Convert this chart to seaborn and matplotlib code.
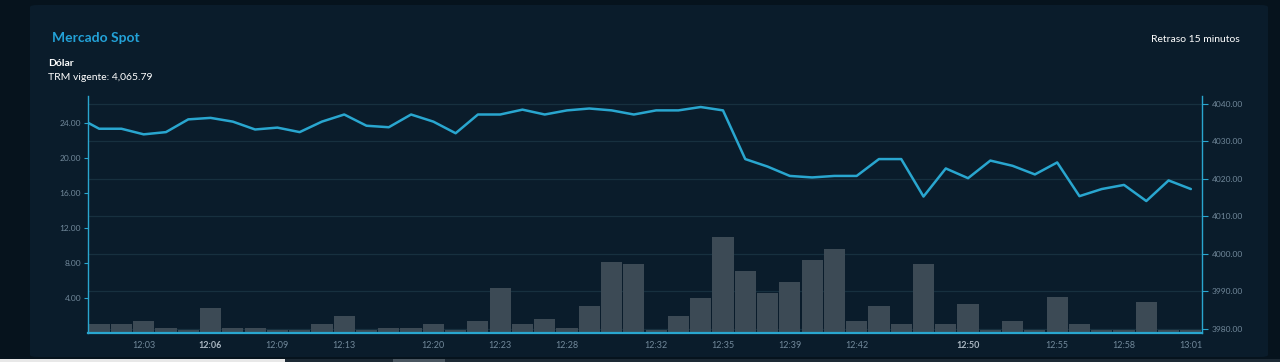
import matplotlib
matplotlib.use("Agg")
import matplotlib.pyplot as plt
from matplotlib.patches import FancyBboxPatch, Rectangle
import numpy as np
import pandas as pd
import seaborn as sns

# ---------------- data ----------------
volumes = [1.0, 1.0, 1.3, 0.55, 0.3, 2.8, 0.55, 0.55, 0.3, 0.3,
           1.0, 1.85, 0.3, 0.5, 0.5, 1.0, 0.3, 1.3, 5.1, 1.0,
           1.6, 0.55, 3.0, 8.1, 7.8, 0.3, 1.85, 4.0, 10.9, 7.1,
           4.5, 5.8, 8.3, 9.6, 1.3, 3.0, 1.0, 7.8, 1.0, 3.3,
           0.3, 1.3, 0.3, 4.05, 1.0, 0.3, 0.3, 3.5, 0.3, 0.3]

# first price belongs to the trade before the first visible bar (clipped at the edge)
prices = [4036.6,
          4033.4, 4033.4, 4031.9, 4032.5, 4035.9, 4036.3, 4035.3, 4033.2, 4033.7, 4032.5,
          4035.3, 4037.2, 4034.2, 4033.8, 4037.2, 4035.3, 4032.2, 4037.2, 4037.2, 4038.5,
          4037.2, 4038.3, 4038.8, 4038.3, 4037.2, 4038.3, 4038.3, 4039.2, 4038.3, 4025.3,
          4023.3, 4020.8, 4020.4, 4020.8, 4020.8, 4025.3, 4025.3, 4015.3, 4022.8, 4020.2,
          4024.9, 4023.5, 4021.2, 4024.4, 4015.4, 4017.3, 4018.4, 4014.1, 4019.6, 4017.3]

tick_labels = ["12:03", "12:06", "12:09", "12:13", "12:20", "12:23", "12:28", "12:32",
               "12:35", "12:39", "12:42", "12:50", "12:55", "12:58", "13:01"]
tick_bar_index = [2, 5, 8, 11, 15, 18, 21, 25, 28, 31, 34, 39, 43, 46, 49]
bold_labels = ["12:06", "12:50"]

left_ticks = [4, 8, 12, 16, 20, 24]
right_ticks = [3980, 3990, 4000, 4010, 4020, 4030, 4040]

title = "Mercado Spot"
subtitle1 = "Dólar"
subtitle2 = "TRM vigente: 4,065.79"
delay_note = "Retraso 15 minutos"

# ---------------- style ----------------
OUTER = "#06131d"
PANEL = "#0a1c2b"
CYAN = "#29a6cf"
BAR = "#3c4a55"
GRID = "#17303f"
TICK = "#71889a"

sns.set_theme(style="dark")
plt.rcParams["font.family"] = ["Lato", "DejaVu Sans"]

W, H = 1280, 362
fig = plt.figure(figsize=(W / 100, H / 100), dpi=100, facecolor=OUTER)

# panel
panel = FancyBboxPatch((30 / W, 5 / H), 1238 / W, 352 / H,
                       boxstyle="round,pad=0,rounding_size=0.006",
                       transform=fig.transFigure, facecolor=PANEL,
                       edgecolor="none", zorder=0)
fig.patches.append(panel)
# bottom screen strip
fig.patches.append(Rectangle((0, 0), 1, 3 / H, transform=fig.transFigure,
                             facecolor="#1d2a35", edgecolor="none", zorder=1))
fig.patches.append(Rectangle((0, 0), 285 / W, 3 / H, transform=fig.transFigure,
                             facecolor="#e8e8e8", edgecolor="none", zorder=2))
fig.patches.append(Rectangle((393 / W, 0), 52 / W, 3 / H, transform=fig.transFigure,
                             facecolor="#4a5660", edgecolor="none", zorder=2))

left, right, top, bottom = 88, 1202, 96, 332.5
ax = fig.add_axes([left / W, 1 - bottom / H, (right - left) / W, (bottom - top) / H])
ax2 = ax.twinx()

# price axis (behind): grid + line
for t in right_ticks:
    ax2.axhline(t, color=GRID, linewidth=0.9, zorder=0)
df_line = pd.DataFrame({"pos": np.arange(-1, len(prices) - 1), "price": prices})
sns.lineplot(data=df_line, x="pos", y="price", ax=ax2, color=CYAN,
             linewidth=1.8, zorder=4)
ax2.set_xlim(-0.5, len(volumes) - 0.5)
ax2.set_ylim(3979.0, 4042.14)
ax2.set_yticks(right_ticks)
ax2.set_yticklabels([f"{v:.2f}" for v in right_ticks])
ax2.set_ylabel("")
ax2.set_xlabel("")
ax2.grid(False)
ax2.tick_params(axis="y", colors=TICK, labelsize=6, length=4, width=0.8, pad=3)
ax2.tick_params(axis="y", color=CYAN)
for s in ["top", "left", "bottom"]:
    ax2.spines[s].set_visible(False)
ax2.spines["right"].set_color(CYAN)
ax2.spines["right"].set_linewidth(1.0)

# volume axis (front): bars
df_bars = pd.DataFrame({"pos": np.arange(len(volumes)), "vol": volumes})
sns.barplot(data=df_bars, x="pos", y="vol", ax=ax, color=BAR, width=0.95,
            saturation=1, linewidth=0, zorder=2)
ax.set_xlim(-0.5, len(volumes) - 0.5)
ax.set_ylim(0, 27.09)
ax.set_yticks(left_ticks)
ax.set_yticklabels([f"{v:.2f}" for v in left_ticks])
ax.set_xticks(tick_bar_index)
ax.set_xticklabels(tick_labels)
ax.set_xlabel("")
ax.set_ylabel("")
ax.grid(False)
ax.tick_params(axis="x", labelsize=6.5, length=3, width=0.8,
               direction="out", pad=3, color="#9aa8b3")
ax.tick_params(axis="y", colors=TICK, labelsize=6, length=3, width=0.8, pad=2)
ax.tick_params(axis="y", color=CYAN)
for lbl in ax.get_xticklabels():
    if lbl.get_text() in bold_labels:
        lbl.set_fontweight("bold")
        lbl.set_color("#a9b6c1")
    else:
        lbl.set_color(TICK)
for s in ["top", "right"]:
    ax.spines[s].set_visible(False)
ax.spines["left"].set_color(CYAN)
ax.spines["left"].set_linewidth(1.0)
ax.spines["bottom"].set_color(CYAN)
ax.spines["bottom"].set_linewidth(1.6)

ax2.set_zorder(1)
ax.set_zorder(2)
ax.patch.set_visible(False)
ax2.patch.set_visible(False)

# texts
fig.text(52 / W, 1 - 38 / H, title, color="#23a2d8", fontsize=10,
         fontweight="bold", va="center", ha="left")
fig.text(48 / W, 1 - 63 / H, subtitle1, color="white", fontsize=7.5,
         fontweight="bold", va="center", ha="left")
fig.text(48 / W, 1 - 78 / H, subtitle2, color="white", fontsize=7.5,
         va="center", ha="left")
fig.text(1240 / W, 1 - 39 / H, delay_note, color="white", fontsize=7.5,
         va="center", ha="right")

fig.savefig("out.png", dpi=100, facecolor=OUTER)
